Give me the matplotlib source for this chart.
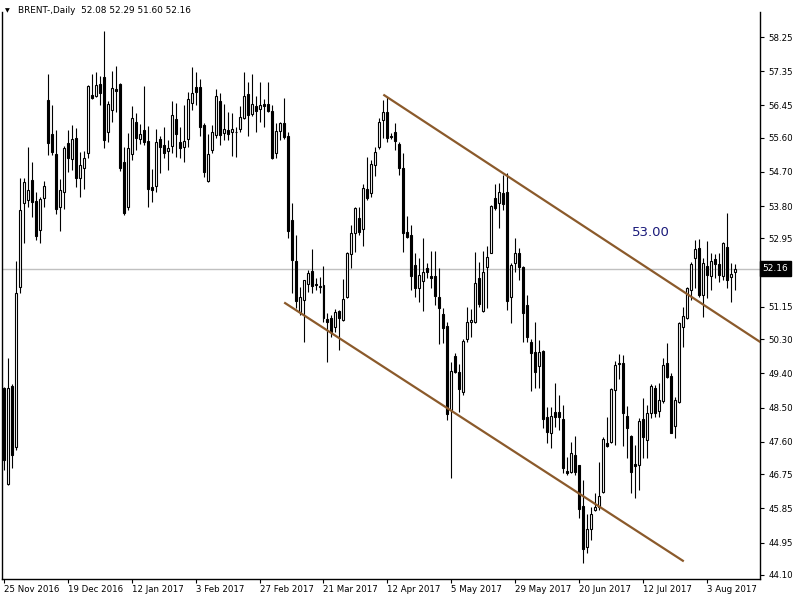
import numpy as np
import matplotlib.pyplot as plt
from matplotlib.transforms import blended_transform_factory

# daily OHLC, BRENT (one value per trading day)
opens = [49.02, 46.49, 49.07, 47.47, 51.68, 53.88, 53.96, 54.49, 53.94, 53.17,
         54.02, 56.59, 55.70, 55.17, 53.78, 54.17, 55.46, 55.04, 55.59, 54.54,
         54.80, 55.20, 56.72, 56.70, 57.01, 57.20, 55.75, 56.33, 56.88, 57.01,
         54.96, 53.78, 55.17, 56.01, 55.57, 55.80, 55.52, 54.31, 54.33, 55.57,
         55.41, 55.25, 55.38, 56.09, 55.49, 55.36, 55.57, 56.51, 56.94, 56.94,
         55.94, 54.46, 55.28, 55.67, 56.57, 55.73, 55.80, 55.75, 55.75, 55.83,
         56.12, 56.75, 56.23, 56.44, 56.36, 56.49, 56.49, 56.30, 55.20, 55.78,
         55.99, 55.65, 53.44, 52.36, 51.02, 51.33, 51.75, 52.10, 51.75, 51.70,
         51.73, 50.83, 50.86, 50.62, 51.04, 50.81, 51.41, 52.54, 53.10, 53.49,
         53.20, 54.25, 54.15, 54.88, 55.36, 56.07, 56.28, 55.65, 55.75, 55.44,
         54.80, 53.12, 53.04, 52.25, 51.65, 51.83, 52.17, 51.96, 51.96, 51.41,
         50.97, 50.65, 48.44, 49.86, 49.44, 48.91, 50.31, 50.75, 50.75, 51.91,
         51.04, 52.20, 52.57, 54.02, 53.88, 54.15, 54.17, 51.41, 52.31, 52.57,
         52.20, 51.20, 50.23, 49.97, 49.60, 49.99, 48.26, 47.84, 48.39, 48.39,
         48.20, 46.84, 46.81, 47.26, 46.99, 45.92, 44.84, 45.31, 45.81, 45.89,
         46.28, 47.57, 47.60, 48.97, 49.65, 49.68, 48.28, 47.76, 47.02, 46.99,
         48.20, 47.65, 48.36, 49.02, 48.41, 48.68, 49.68, 49.33, 48.02, 48.65,
         50.62, 50.86, 51.60, 52.44, 52.70, 51.46, 52.23, 51.96, 52.41, 52.28,
         51.96, 52.73, 51.94, 52.08]
highs = [49.04, 49.81, 49.12, 52.36, 54.54, 54.54, 55.36, 54.96, 54.17, 54.04,
         54.46, 57.28, 56.46, 55.80, 54.52, 55.38, 55.80, 55.94, 55.86, 55.23,
         55.25, 56.99, 57.28, 57.33, 57.22, 58.41, 56.57, 57.36, 57.49, 57.04,
         55.36, 55.73, 56.44, 56.25, 55.96, 56.96, 55.91, 54.78, 55.83, 55.65,
         55.88, 55.54, 56.57, 56.51, 55.88, 56.46, 56.80, 57.46, 57.33, 57.15,
         55.99, 55.70, 55.94, 56.88, 56.78, 56.49, 56.28, 56.25, 55.88, 56.44,
         57.33, 57.07, 57.28, 56.70, 57.07, 56.62, 57.07, 56.46, 55.99, 56.01,
         56.65, 55.75, 53.88, 53.04, 51.68, 51.87, 52.12, 52.67, 51.91, 51.94,
         52.23, 50.99, 50.94, 51.10, 51.07, 51.89, 52.60, 53.31, 53.78, 53.78,
         54.38, 55.09, 55.02, 55.36, 56.12, 56.59, 56.67, 55.73, 55.99, 55.49,
         55.20, 53.54, 53.31, 52.57, 52.44, 52.96, 52.31, 52.62, 52.62, 52.17,
         51.12, 50.75, 49.70, 49.94, 49.65, 50.31, 51.15, 51.10, 52.60, 52.33,
         52.62, 52.75, 53.83, 54.38, 54.41, 54.62, 54.67, 52.31, 52.96, 52.70,
         52.22, 51.46, 50.31, 50.75, 50.28, 50.02, 48.52, 48.52, 49.15, 48.83,
         48.57, 47.20, 47.60, 47.76, 47.00, 46.60, 45.71, 45.89, 46.26, 47.07,
         47.73, 48.26, 49.02, 49.73, 49.91, 49.89, 48.55, 47.77, 47.52, 48.23,
         48.76, 48.57, 49.12, 49.10, 49.15, 49.81, 50.20, 49.41, 48.78, 50.75,
         51.15, 51.68, 52.33, 52.91, 52.94, 52.44, 52.88, 52.57, 52.54, 52.57,
         52.86, 53.62, 52.31, 52.29]
lows = [46.86, 46.47, 46.91, 47.39, 51.52, 52.83, 53.78, 53.52, 52.91, 52.83,
        53.78, 55.15, 55.15, 53.60, 53.15, 53.73, 54.70, 54.75, 54.31, 54.04,
        54.25, 55.07, 56.62, 56.67, 56.46, 55.33, 55.49, 56.01, 56.28, 54.73,
        53.57, 53.70, 55.02, 55.28, 55.44, 55.41, 53.78, 53.91, 54.17, 54.67,
        55.07, 54.75, 55.20, 55.09, 55.07, 54.96, 55.36, 56.33, 56.46, 55.65,
        54.57, 54.44, 55.20, 55.59, 55.41, 55.54, 55.54, 55.12, 55.09, 55.75,
        56.09, 55.65, 56.17, 55.75, 56.01, 55.88, 56.28, 55.04, 55.07, 55.54,
        55.57, 52.96, 51.52, 51.12, 50.94, 50.23, 51.54, 51.52, 51.60, 51.52,
        50.75, 49.70, 50.36, 50.49, 50.02, 50.78, 51.39, 52.18, 52.60, 53.04,
        52.75, 53.96, 54.04, 54.59, 55.30, 55.59, 55.49, 55.57, 55.28, 54.62,
        52.60, 52.96, 51.60, 51.41, 51.28, 51.04, 51.91, 51.65, 51.20, 50.18,
        50.20, 48.18, 46.65, 49.41, 48.39, 48.83, 50.23, 50.36, 50.73, 51.15,
        51.02, 51.12, 52.56, 53.70, 53.23, 53.70, 51.07, 50.73, 52.07, 51.86,
        50.23, 50.23, 48.94, 49.02, 49.02, 47.97, 47.57, 47.44, 47.99, 47.91,
        46.78, 46.73, 46.78, 46.73, 45.60, 44.40, 44.68, 45.02, 45.79, 45.81,
        46.26, 47.47, 47.57, 47.52, 49.26, 47.49, 47.18, 46.26, 46.13, 46.34,
        47.18, 47.18, 48.23, 48.26, 48.26, 48.62, 49.28, 47.82, 47.70, 48.62,
        50.10, 50.83, 51.33, 51.65, 51.41, 50.89, 51.39, 51.60, 51.91, 51.81,
        51.86, 51.65, 51.28, 51.60]
closes = [47.12, 49.02, 47.26, 51.52, 53.70, 54.44, 54.23, 53.91, 53.02, 53.99,
          54.33, 55.46, 55.23, 53.73, 54.23, 55.33, 55.07, 55.57, 54.54, 54.88,
          55.07, 56.96, 56.65, 56.99, 56.78, 55.54, 56.49, 56.91, 56.83, 54.80,
          53.62, 55.33, 56.12, 55.59, 55.70, 55.49, 54.25, 54.23, 55.49, 55.36,
          55.20, 55.33, 56.20, 55.70, 55.33, 55.52, 56.62, 56.78, 56.80, 55.88,
          54.70, 55.17, 55.75, 56.70, 55.67, 55.83, 55.70, 55.83, 55.76, 56.15,
          56.70, 56.20, 56.49, 56.30, 56.46, 56.44, 56.30, 55.07, 55.78, 55.99,
          55.62, 53.15, 52.39, 51.31, 51.41, 51.86, 52.04, 51.70, 51.73, 51.68,
          50.86, 50.75, 50.49, 51.02, 50.86, 51.36, 52.57, 53.10, 53.75, 53.12,
          54.28, 54.02, 54.91, 55.23, 56.01, 56.28, 55.59, 55.62, 55.52, 54.80,
          53.10, 52.99, 51.96, 51.65, 51.99, 52.07, 52.07, 51.91, 51.44, 51.12,
          50.60, 48.34, 49.47, 49.44, 48.99, 50.25, 50.75, 50.81, 51.78, 51.23,
          52.07, 52.46, 53.80, 53.75, 54.17, 53.86, 51.31, 52.25, 52.57, 52.20,
          50.99, 50.36, 49.94, 49.44, 49.97, 48.20, 47.86, 48.28, 48.26, 48.26,
          46.91, 46.78, 47.31, 46.81, 45.84, 44.78, 45.31, 45.71, 45.89, 46.18,
          47.68, 47.49, 48.99, 49.62, 49.68, 48.36, 47.97, 46.81, 46.97, 48.15,
          47.73, 48.36, 49.07, 48.36, 48.70, 49.62, 49.31, 47.84, 48.70, 50.73,
          50.91, 51.65, 52.28, 52.67, 51.46, 52.31, 51.99, 52.36, 52.28, 51.99,
          52.83, 51.86, 52.02, 52.16]

date_labels = ["25 Nov 2016", "19 Dec 2016", "12 Jan 2017", "3 Feb 2017",
               "27 Feb 2017", "21 Mar 2017", "12 Apr 2017", "5 May 2017",
               "29 May 2017", "20 Jun 2017", "12 Jul 2017", "3 Aug 2017"]
date_bars = [0, 16, 32, 48, 64, 80, 96, 112, 128, 144, 160, 176]

price_ticks = [58.25, 57.35, 56.45, 55.60, 54.70, 53.80, 52.95, 52.05, 51.15,
               50.30, 49.40, 48.50, 47.60, 46.75, 45.85, 44.95, 44.10]

# channel lines (bar index, price)
upper_x, upper_y = [95.2, 189.2], [56.72, 50.23]
lower_x, lower_y = [70.4, 169.9], [51.25, 44.47]
last_price = 52.16

o, h, l, c = map(np.array, (opens, highs, lows, closes))
x = np.arange(len(o))
up = c >= o

fig = plt.figure(figsize=(8, 6), dpi=100)
ax = fig.add_axes([0.003, 0.035, 0.947, 0.945])

ax.axhline(last_price, color='#c0c0c0', lw=1, zorder=0)

ax.vlines(x, l, h, color='black', lw=0.8, zorder=2)
body_lo = np.minimum(o, c)
body_h = np.maximum(np.abs(c - o), 0.01)
ax.bar(x, body_h, bottom=body_lo, width=0.5,
       color=np.where(up, 'white', 'black'), edgecolor='black', lw=0.8, zorder=3)

ax.plot(upper_x, upper_y, color='#8b5a2b', lw=1.6, zorder=4)
ax.plot(lower_x, lower_y, color='#8b5a2b', lw=1.6, zorder=4)

ax.text(161.9, 53.12, '53.00', color='#1a1a7a', fontsize=9.5,
        ha='center', va='center')

ax.set_xlim(-0.33, 189.2)
ax.set_ylim(43.99, 58.91)

ax.set_xticks(date_bars)
ax.set_xticklabels(date_labels, fontsize=6.2, ha='left')
ax.tick_params(axis='x', length=3, pad=1, width=0.8)

ax.yaxis.tick_right()
ax.set_yticks(price_ticks)
# the 52.05 label sits under the current-price box, so leave it blank
ax.set_yticklabels(['' if abs(v - last_price) < 0.3 else f'{v:.2f}'
                    for v in price_ticks], fontsize=6.2)
ax.tick_params(axis='y', length=3, pad=3, width=0.8)

for side in ('left', 'right', 'bottom'):
    ax.spines[side].set_linewidth(1)
ax.spines['top'].set_visible(False)

# current price box on the price scale
trans = blended_transform_factory(ax.transAxes, ax.transData)
ax.text(1.003, last_price, '52.16', transform=trans, fontsize=6.5,
        color='white', ha='left', va='center', zorder=10, clip_on=False,
        bbox=dict(boxstyle='square,pad=0.3', fc='black', ec='black'))

fig.text(0.006, 0.982, '\u25bc', fontsize=4.5, va='center', ha='left')
fig.text(0.022, 0.982, 'BRENT-,Daily  52.08 52.29 51.60 52.16',
         fontsize=6.4, va='center', ha='left')

fig.savefig('out.png', dpi=100)
